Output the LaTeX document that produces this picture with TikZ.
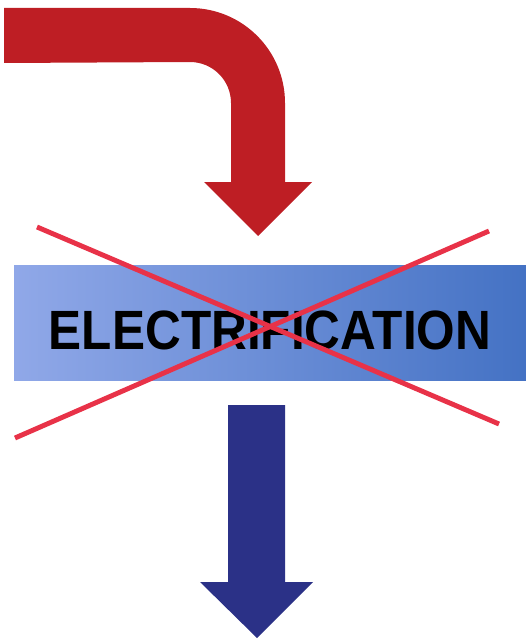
\documentclass[tikz,border=0pt]{standalone}
\usepackage{fontspec}
\setmainfont{Liberation Sans}
\definecolor{bendred}{RGB}{190,30,36}
\definecolor{downblue}{RGB}{43,49,135}
\definecolor{crossred}{RGB}{232,50,72}
\definecolor{boxlight}{RGB}{144,168,232}
\definecolor{boxdark}{RGB}{68,114,196}
\begin{document}
\begin{tikzpicture}[x=0.02cm, y=-0.02cm]
            \tikzset{band/.style={minimum width=10.24cm, minimum height=2.32cm, inner sep=0pt, left color=boxlight, right color=boxdark}}
            \tikzset{cross/.style={crossred, line width=2.8pt}}
            \useasboundingbox (0,0) rectangle (526,642);

            % Gebogen pijl (boven)
            \fill[bendred] (4,8) -- (190,8) arc (-90:0:95) -- (285,182) -- (312,182) -- (258,236)
                -- (204,182) -- (231,182) -- (231,103) arc (0:-90:41) -- (4,63) -- cycle;

            % Balk met tekst
            \node[band] (band) at (270,323) {};
            \node[anchor=base, xscale=0.895, font=\bfseries\fontsize{31.5pt}{31.5pt}\selectfont] (word) at (270,349) {ELECTRIFICATION};

            % Kruis
            \coordinate (c1) at (37,227);
            \coordinate (c2) at (499,424);
            \coordinate (c3) at (15,438);
            \coordinate (c4) at (489,231);
            \draw[cross] (c1) -- (c2);
            \draw[cross] (c3) -- (c4);

            % Rechte pijl (onder)
            \fill[downblue] (228,405) -- (285,405) -- (285,582) -- (313,582) -- (257,638)
                -- (200,582) -- (228,582) -- cycle;
        \end{tikzpicture}
\end{document}
